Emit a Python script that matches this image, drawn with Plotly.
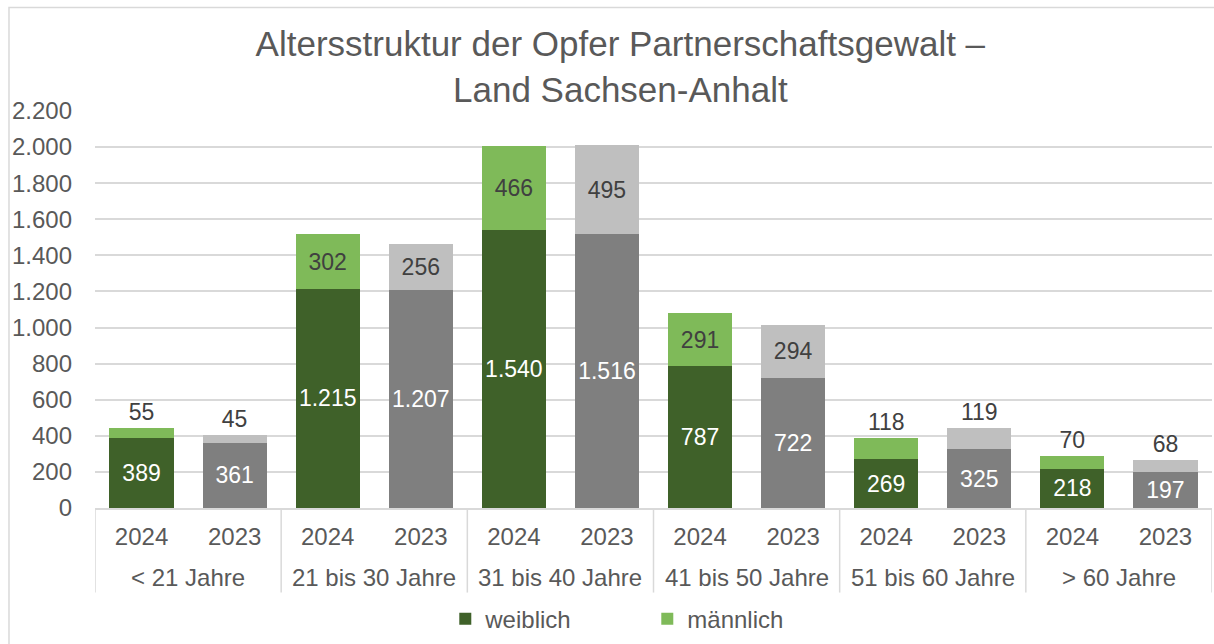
import plotly.graph_objects as go

# Data
groups = ["< 21 Jahre", "21 bis 30 Jahre", "31 bis 40 Jahre",
          "41 bis 50 Jahre", "51 bis 60 Jahre", "> 60 Jahre"]
years = ["2024", "2023"]
weiblich_2024 = [389, 1215, 1540, 787, 269, 218]
weiblich_2023 = [361, 1207, 1516, 722, 325, 197]
maennlich_2024 = [55, 302, 466, 291, 118, 70]
maennlich_2023 = [45, 256, 495, 294, 119, 68]

# colours
DARK_GREEN = "#3f6129"
LIGHT_GREEN = "#7fba59"
DARK_GREY = "#7f7f7f"
LIGHT_GREY = "#bfbfbf"
TEXT = "#595959"
GRID = "#d9d9d9"
FONT = "Liberation Sans, Arial, sans-serif"

keys, ticktext, w_vals, m_vals = [], [], [], []
w_cols, m_cols, m_pos = [], [], []
for i, g in enumerate(groups):
    for y in years:
        keys.append(f"{g}|{y}")
        ticktext.append(y)
        if y == "2024":
            w_vals.append(weiblich_2024[i])
            m_vals.append(maennlich_2024[i])
            w_cols.append(DARK_GREEN)
            m_cols.append(LIGHT_GREEN)
        else:
            w_vals.append(weiblich_2023[i])
            m_vals.append(maennlich_2023[i])
            w_cols.append(DARK_GREY)
            m_cols.append(LIGHT_GREY)
for v in m_vals:
    m_pos.append("outside" if v < 200 else "inside")

fig = go.Figure()
fig.add_trace(go.Bar(
    x=keys, y=w_vals, name="weiblich",
    marker=dict(color=w_cols, line=dict(width=0)),
    texttemplate="%{y:,}", textposition="inside", insidetextanchor="middle",
    textfont=dict(color="white", size=23, family=FONT),
    constraintext="none",
))
fig.add_trace(go.Bar(
    x=keys, y=m_vals, name="männlich",
    marker=dict(color=m_cols, line=dict(width=0)),
    texttemplate="%{y:,}", textposition=m_pos, insidetextanchor="middle",
    textfont=dict(color="#404040", size=23, family=FONT),
    outsidetextfont=dict(color="#404040", size=23, family=FONT),
    constraintext="none", cliponaxis=False,
))

# group labels and dividers below the axis
for i, g in enumerate(groups):
    fig.add_annotation(x=2 * i + 0.5, xref="x", y=-0.175, yref="paper",
                       text=g, showarrow=False, yanchor="middle",
                       font=dict(size=24, color=TEXT, family=FONT))
for i in range(len(groups) + 1):
    fig.add_shape(type="line", xref="x", yref="paper",
                  x0=2 * i - 0.5, x1=2 * i - 0.5, y0=0, y1=-0.213,
                  line=dict(color=GRID, width=1.5))

# outer chart border
fig.add_shape(type="rect", xref="paper", yref="paper",
              x0=-0.077, x1=1.05, y0=-0.5, y1=1.2607,
              line=dict(color=GRID, width=1.5), layer="below")

fig.update_layout(
    width=1214, height=644,
    paper_bgcolor="white", plot_bgcolor="white",
    barmode="stack", bargap=0.31,
    separators=",.",
    font=dict(family=FONT, color=TEXT, size=24),
    title=dict(text="Altersstruktur der Opfer Partnerschaftsgewalt –<br>Land Sachsen-Anhalt",
               x=0.511, xanchor="center", y=0.913, yanchor="top",
               font=dict(size=35, color=TEXT, family=FONT)),
    margin=dict(l=95, r=2, t=111, b=134),
    xaxis=dict(type="category", tickmode="array", tickvals=keys, ticktext=ticktext,
               showline=True, linecolor=GRID, linewidth=1.5, ticks="",
               range=[-0.5, len(keys) - 0.5],
               tickfont=dict(size=24, color=TEXT), ticklabelstandoff=6),
    yaxis=dict(range=[0, 2200], dtick=200, tickformat=",", gridcolor=GRID,
               gridwidth=1.5, zeroline=False, tickfont=dict(size=24, color=TEXT),
               ticklabelstandoff=22),
    legend=dict(orientation="h", x=0.3136, xanchor="left", y=-0.28,
                yanchor="middle", entrywidth=157, entrywidthmode="pixels",
                font=dict(size=24, color=TEXT), traceorder="normal"),
    showlegend=True,
)

fig.write_html("out.html", config={"displayModeBar": False},
               post_script="document.body.style.margin='0';")
